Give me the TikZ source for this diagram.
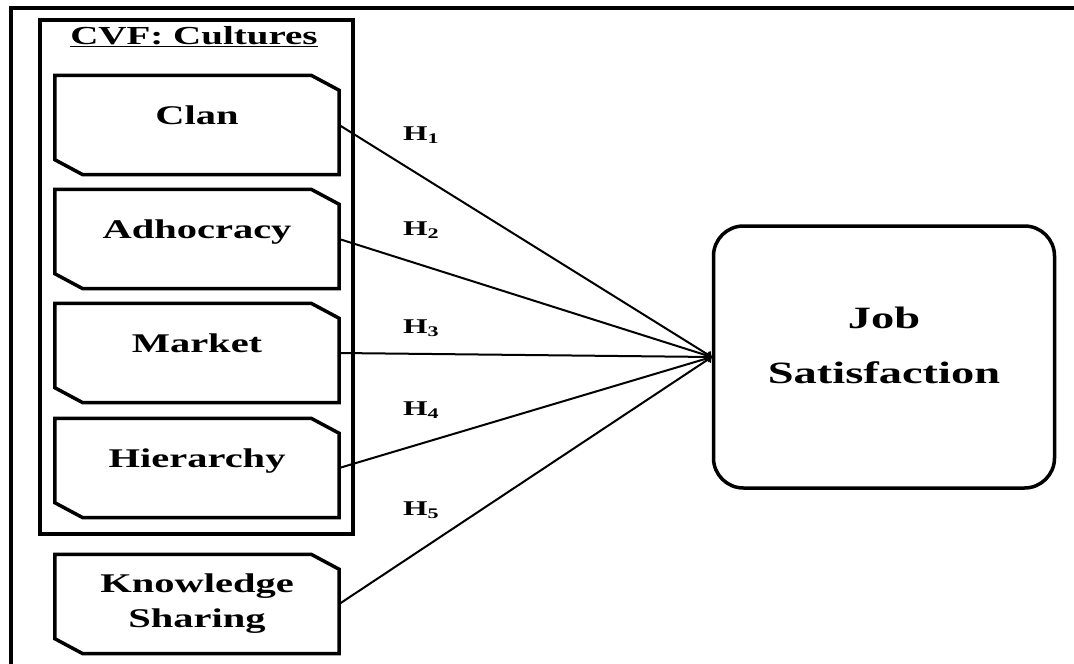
\documentclass[tikz,border=0pt]{standalone}
\usepackage{fontspec}
\setmainfont{Liberation Serif}[FakeStretch=1.5]
\usepackage{tikz}
\usetikzlibrary{shapes,arrows}

\tikzset{
  culture/.style={rectangle,minimum width=284pt,minimum height=99pt,inner sep=0pt,align=center,
    font=\fontsize{27}{35}\selectfont\bfseries},
  lifted/.style={text height=18pt,text depth=20pt},
  hyp/.style={anchor=base west,inner sep=0pt,font=\fontsize{21}{24}\selectfont\bfseries},
}

\begin{document}
\begin{tikzpicture}[x=1pt,y=-1pt]
\useasboundingbox (0,0) rectangle (1074,664);
\draw [line width=4.5pt] (1074,8) -- (11,8) -- (11,664);

\node [draw,line width=4pt,minimum width=313pt,minimum height=514pt] (v0) at (196,277) {};
\node [font=\fontsize{26}{30}\selectfont\bfseries] (t0) at (194,37) {\underline{CVF: Cultures}};

\node [culture,lifted] (v1) at (197,125) {Clan};
\node [culture,lifted] (v2) at (197,239) {Adhocracy};
\node [culture,lifted] (v3) at (197,353) {Market};
\node [culture,lifted] (v4) at (197,468) {Hierarchy};
\node [culture] (v5) at (197,604) {Knowledge\\Sharing};

% cut corners of the culture boxes
\foreach \n in {v1,v2,v3,v4,v5}
  \draw [line width=3.5pt] ([xshift=-28pt]\n.north east) -- ([yshift=-15pt]\n.north east)
    -- (\n.south east) -- ([xshift=28pt]\n.south west) -- ([yshift=15pt]\n.south west)
    -- (\n.north west) -- cycle;

\node [draw,rounded corners=30pt,line width=3.5pt,minimum width=341pt,minimum height=262pt,
  align=center,font=\fontsize{31}{55}\selectfont\bfseries] (v6) at (884,357)
  {Job\\Satisfaction\rule[-23pt]{0pt}{0pt}};

\node [hyp] (h1) at (403,140) {H\textsubscript{1}};
\node [hyp] (h2) at (403,235) {H\textsubscript{2}};
\node [hyp] (h3) at (403,333) {H\textsubscript{3}};
\node [hyp] (h4) at (403,415) {H\textsubscript{4}};
\node [hyp] (h5) at (403,515) {H\textsubscript{5}};

\draw (v1.east) edge[->,line width=2pt] (v6.west);
\draw (v2.east) edge[->,line width=2pt] (v6.west);
\draw (v3.east) edge[->,line width=2pt] (v6.west);
\draw (v4.east) edge[->,line width=2pt] (v6.west);
\draw (v5.east) edge[->,line width=2pt] (v6.west);

\end{tikzpicture}
\end{document}
